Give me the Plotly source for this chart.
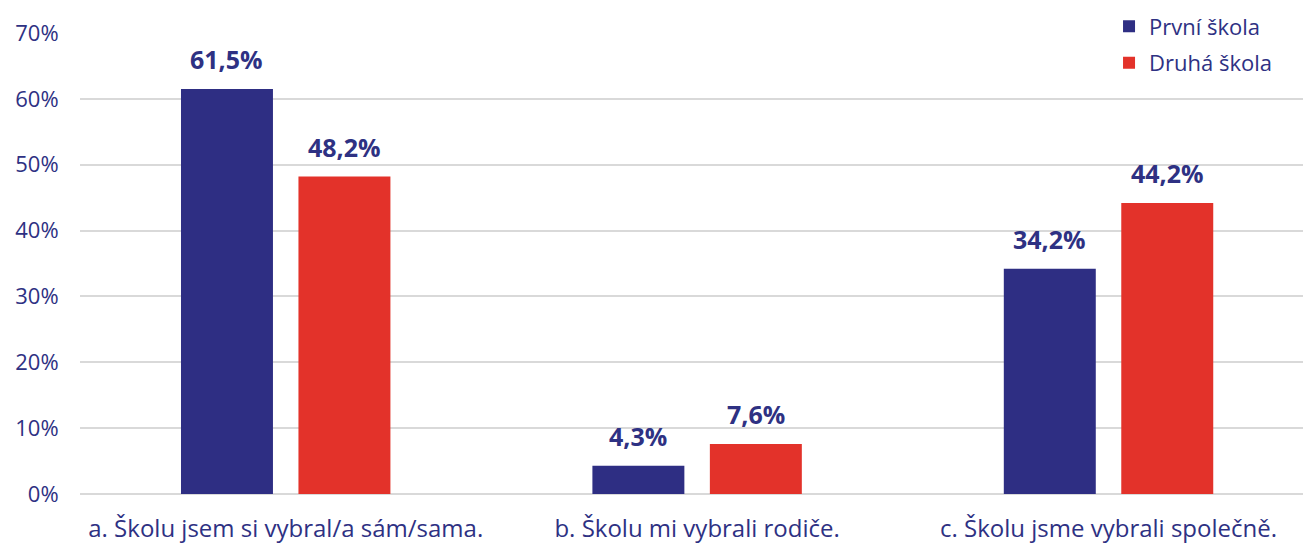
import plotly.graph_objects as go

categories = ["a. Školu jsem si vybral/a sám/sama.", "b. Školu mi vybrali rodiče.", "c. Školu jsme vybrali společně."]
series_names = ["První škola", "Druhá škola"]
prvni = [61.5, 4.3, 34.2]
druha = [48.2, 7.6, 44.2]
y_ticks = [0, 10, 20, 30, 40, 50, 60, 70]
y_tick_labels = [f"{v}%" for v in y_ticks]

NAVY = "#2E2E83"
RED = "#E3322A"
TXT = "#2E3183"
FONT = "'Open Sans', sans-serif"

fig = go.Figure()
series = [(series_names[0], prvni, NAVY, "g1"), (series_names[1], druha, RED, "g2")]
for name, vals, col, grp in series:
    fig.add_trace(go.Bar(
        name=name, x=categories, y=vals, marker_color=col, marker_line_width=0,
        legendgroup=grp, hoverinfo="x+y",
    ))

# value labels above bars (offset to match the grouped bar slots)
slot_px = 117.5
for i, (name, vals, col, grp) in enumerate(series):
    for c, v in zip(categories, vals):
        fig.add_annotation(
            x=c, y=v, text=f"{v:.1f}%".replace(".", ","), showarrow=False,
            xshift=(i - 0.5) * slot_px, yshift=11, yanchor="bottom",
            font=dict(family=FONT, size=25, color=TXT, weight="bold"),
        )

fig.update_layout(
    width=1303, height=543,
    margin=dict(l=80, r=0, t=33, b=49, autoexpand=False),
    paper_bgcolor="white", plot_bgcolor="white",
    separators=", ",
    barmode="group", bargap=0.429, bargroupgap=0.217,
    font=dict(family=FONT, color=TXT, size=22),
    legend=dict(x=0.8414, y=1.06, xanchor="left", yanchor="top",
                font=dict(family=FONT, size=22, color=TXT),
                tracegroupgap=5, bgcolor="rgba(0,0,0,0)", itemwidth=30),
    showlegend=True,
)
fig.update_xaxes(range=[-0.5, 2.4727], showgrid=False, showline=False, automargin=False,
                 tickfont=dict(family=FONT, size=24, color=TXT),
                 ticks="outside", ticklen=13, tickcolor="rgba(0,0,0,0)")
fig.update_yaxes(range=[0, 70], tickmode="array", tickvals=y_ticks, ticktext=y_tick_labels,
                 automargin=False,
                 showgrid=True, gridcolor="#D9D9D9", gridwidth=1.5,
                 zeroline=True, zerolinecolor="#D9D9D9", zerolinewidth=1.5,
                 tickfont=dict(family=FONT, size=22, color=TXT),
                 ticks="outside", ticklen=16, tickcolor="rgba(0,0,0,0)")

fig.write_html("out.html", config={"displayModeBar": False},
               post_script="document.body.style.margin='0';")
